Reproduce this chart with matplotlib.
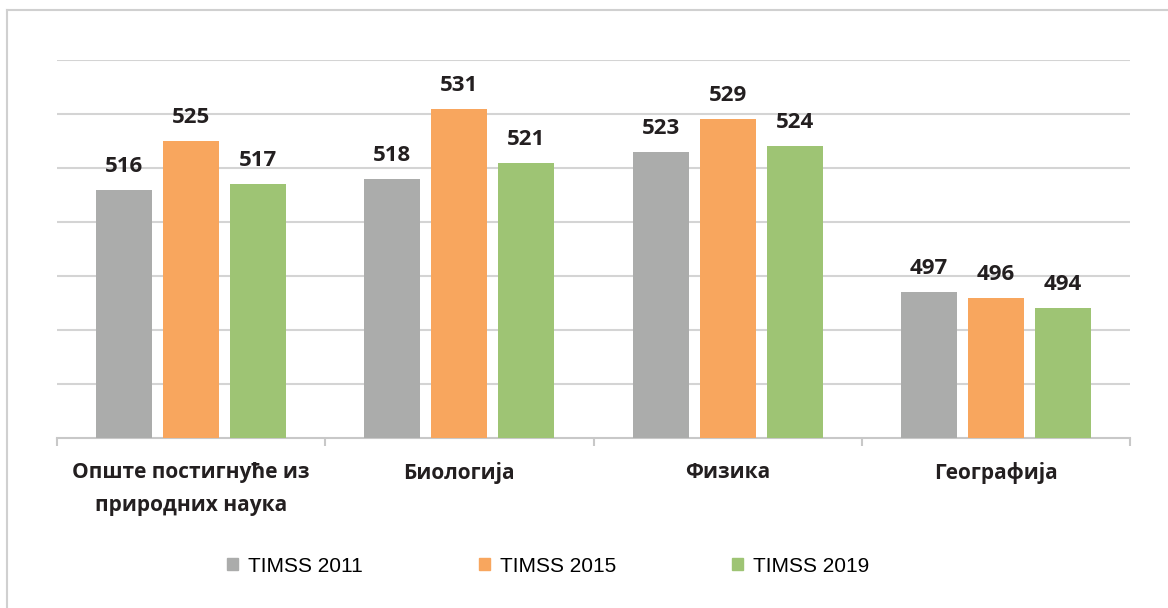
import matplotlib.pyplot as plt
from matplotlib.patches import Patch
from matplotlib.lines import Line2D
import numpy as np

categories = ["Опште постигнуће из\nприродних наука", "Биологија", "Физика", "Географија"]
series = ["TIMSS 2011", "TIMSS 2015", "TIMSS 2019"]
timss_2011 = [516, 518, 523, 497]
timss_2015 = [525, 531, 529, 496]
timss_2019 = [517, 521, 524, 494]
colors = ["#ABACAB", "#F8A65E", "#9EC474"]

W, H = 1168, 608


def main():
    fig = plt.figure(figsize=(W / 100, H / 100), dpi=100)
    ax = fig.add_axes([57 / W, 1 - 438 / H, (1130 - 57) / W, (438 - 60) / H])

    x = np.arange(len(categories))
    width = 0.209
    offsets = [-0.25, 0, 0.25]
    for vals, off, col in zip([timss_2011, timss_2015, timss_2019], offsets, colors):
        bars = ax.bar(x + off, vals, width=width, color=col, zorder=3)
        # vrijednost iznad svakog stupca
        for b, v in zip(bars, vals):
            ax.annotate(str(v), (b.get_x() + b.get_width() / 2, v),
                        xytext=(0, 13), textcoords="offset points",
                        ha="center", va="baseline", fontsize=16,
                        fontweight="bold", family="Open Sans", color="#231F20")

    ax.set_xlim(-0.5, len(categories) - 0.5)
    ax.set_ylim(470, 540)
    ax.set_yticks(np.arange(480, 541, 10))
    ax.yaxis.grid(True, color="#D4D4D4", linewidth=1.5, zorder=0)
    ax.tick_params(axis="y", length=0, labelleft=False)
    for s in ["top", "right", "left"]:
        ax.spines[s].set_visible(False)
    ax.spines["bottom"].set_color("#C8C8C8")
    ax.spines["bottom"].set_linewidth(1.5)

    # kategorije + kratke crtice izmedju grupa
    ax.set_xticks(x)
    ax.set_xticklabels(categories, fontsize=15, fontweight="bold",
                       family="Open Sans", color="#231F20", linespacing=1.75)
    ax.tick_params(axis="x", which="major", length=0, pad=17)
    ax.set_xticks(np.arange(-0.5, len(categories), 1), minor=True)
    ax.tick_params(axis="x", which="minor", length=6, width=1.5, color="#C8C8C8")

    handles = [Patch(color=c) for c in colors]
    fig.legend(handles, series, loc="center", bbox_to_anchor=(548 / W, 1 - 566 / H),
               ncol=3, frameon=False,
               prop={"family": "Liberation Sans", "size": 15},
               handlelength=0.53, handleheight=0.53, handletextpad=0.48,
               columnspacing=5.55, borderpad=0)

    # okvir (vidljivi gornji i lijevi rub)
    fig.add_artist(Line2D([7 / W, 1], [1 - 10 / H, 1 - 10 / H], color="#D0D0D0", linewidth=1.5))
    fig.add_artist(Line2D([7 / W, 7 / W], [0, 1 - 10 / H], color="#D0D0D0", linewidth=1.5))

    fig.savefig("out.png", dpi=100, facecolor="white")


if __name__ == "__main__":
    main()
